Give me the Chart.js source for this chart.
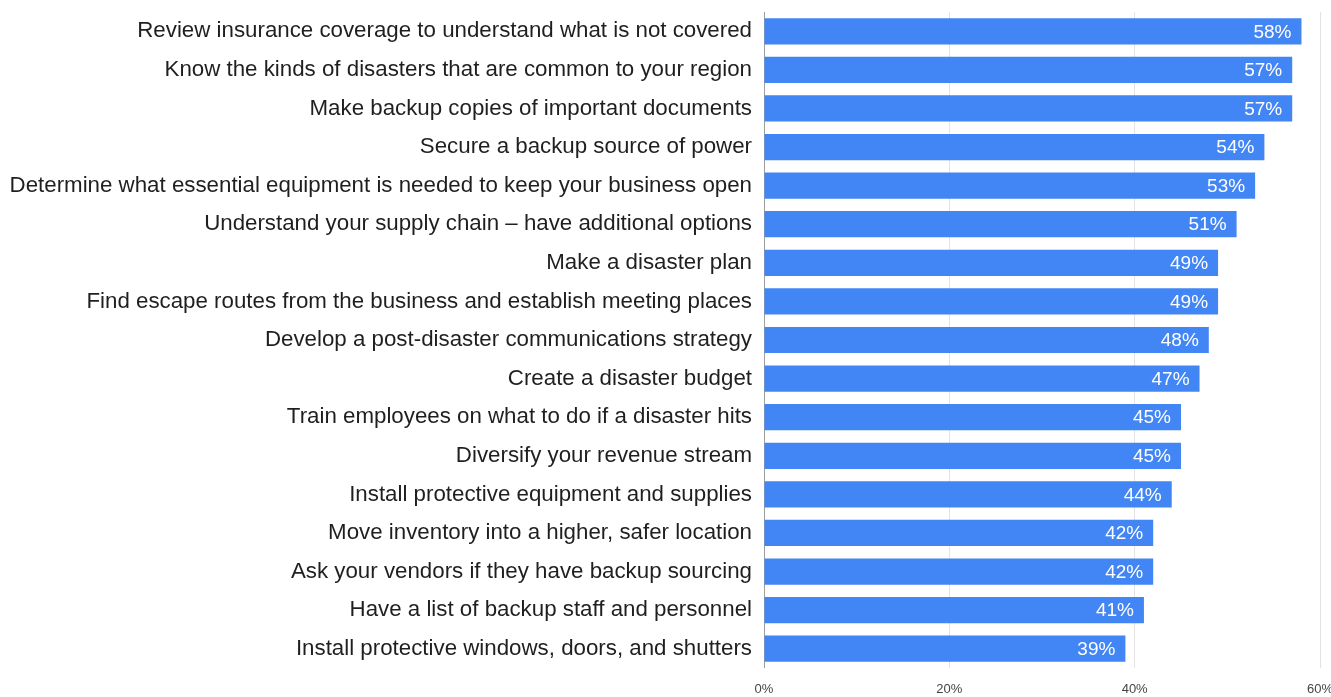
<!DOCTYPE html>
<html>
<head>
<meta charset="utf-8">
<script src="https://cdn.jsdelivr.net/npm/chart.js@4.4.0/dist/chart.umd.min.js"></script>
<style>
  html, body { margin: 0; padding: 0; background: #fff; }
  #wrap { width: 1331px; height: 697px; position: relative; }
</style>
</head>
<body>
<div id="wrap"><canvas id="myChart"></canvas></div>
<script>
const actions = [
  'Review insurance coverage to understand what is not covered',
  'Know the kinds of disasters that are common to your region',
  'Make backup copies of important documents',
  'Secure a backup source of power',
  'Determine what essential equipment is needed to keep your business open',
  'Understand your supply chain \u2013 have additional options',
  'Make a disaster plan',
  'Find escape routes from the business and establish meeting places',
  'Develop a post-disaster communications strategy',
  'Create a disaster budget',
  'Train employees on what to do if a disaster hits',
  'Diversify your revenue stream',
  'Install protective equipment and supplies',
  'Move inventory into a higher, safer location',
  'Ask your vendors if they have backup sourcing',
  'Have a list of backup staff and personnel',
  'Install protective windows, doors, and shutters'
]
const percents = [58, 57, 57, 54, 53, 51, 49, 49, 48, 47, 45, 45, 44, 42, 42, 41, 39]
const xTicks = [0, 20, 40, 60]

// white value labels at the right end of each bar
const barLabels = {
  id: 'barLabels',
  afterDatasetsDraw(chart) {
    const ctx = chart.ctx
    const meta = chart.getDatasetMeta(0)
    ctx.save()
    ctx.font = '19px "Liberation Sans", Arial, sans-serif'
    ctx.fillStyle = '#ffffff'
    ctx.textAlign = 'right'
    ctx.textBaseline = 'middle'
    meta.data.forEach((bar, i) => {
      ctx.fillText(percents[i] + '%', bar.x - 10, bar.y + 1)
    })
    ctx.restore()
  }
}

const ctx = document.getElementById('myChart').getContext('2d')
const myChart = new Chart(ctx, {
  type: 'bar',
  data: {
    labels: actions,
    datasets: [{
      data: percents,
      backgroundColor: '#4285f4',
      borderWidth: 0,
      barPercentage: 0.68,
      categoryPercentage: 1.0
    }]
  },
  options: {
    indexAxis: 'y',
    responsive: true,
    maintainAspectRatio: false,
    animation: false,
    layout: { padding: { top: 12, right: 11, bottom: 0, left: 0 } },
    scales: {
      x: {
        min: 0,
        max: 60,
        afterBuildTicks: (axis) => { axis.ticks = xTicks.map(v => ({ value: v })) },
        afterFit: (scale) => {
          scale.height = 29
          scale.paddingRight = 0
          scale.paddingLeft = 0
        },
        grid: {
          color: (c) => c.tick && c.tick.value === 0 ? '#9e9e9e' : '#e3e3e3',
          lineWidth: 1,
          drawTicks: false
        },
        border: { display: false },
        ticks: {
          callback: (value) => value + '%',
          color: '#444',
          font: { family: '"Liberation Sans", Arial, sans-serif', size: 13 },
          padding: 14,
          maxRotation: 0
        }
      },
      y: {
        afterFit: (scale) => {
          scale.width = 764
          scale.paddingTop = 0
          scale.paddingBottom = 0
        },
        grid: { display: false, drawTicks: false },
        border: { display: false },
        ticks: {
          color: '#1f1f1f',
          font: { family: '"Liberation Sans", Arial, sans-serif', size: 22.3 },
          padding: 12,
          autoSkip: false
        }
      }
    },
    plugins: {
      legend: { display: false },
      tooltip: { enabled: false }
    }
  },
  plugins: [barLabels]
})
</script>
</body>
</html>
